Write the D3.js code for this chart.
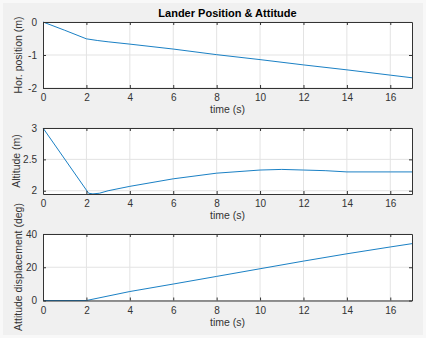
<!DOCTYPE html>
<html>
<head>
<meta charset="utf-8">
<script src="https://cdn.jsdelivr.net/npm/d3@7"></script>
<style>
  body { margin: 0; background: #f8f8f8; }
  svg { display: block; font-family: "Liberation Sans", Arial, sans-serif; }
</style>
</head>
<body>
<svg width="426" height="338"></svg>
<script>
// ### data ###
var time = [0, 1, 2, 2.5, 3, 4, 6, 8, 10, 12, 14, 16, 17];
var horPos = [0, -0.25, -0.51, -0.56, -0.6, -0.67, -0.82, -0.99, -1.14, -1.3, -1.45, -1.61, -1.69];

var altTime = [0, 2.1, 2.3, 2.6, 3, 4, 6, 8, 10, 11, 12, 13, 14, 16, 17];
var altitude = [3, 1.96, 1.95, 1.96, 2.0, 2.07, 2.19, 2.28, 2.33, 2.34, 2.33, 2.32, 2.3, 2.3, 2.3];

var attTime = [0, 2, 4, 6, 8, 10, 12, 14, 16, 17];
var attitude = [0, 0, 5.4, 9.9, 14.5, 19.1, 23.7, 28.1, 32.2, 34.2];

var xTicks = [0, 2, 4, 6, 8, 10, 12, 14, 16];

var panels = [
  {x: time, y: horPos, dom: [-2, 0], ticks: [-2, -1, 0], fmt: d => d < 0 ? '-' + Math.abs(d) : d, label: 'Hor. position (m)', top: 22, bot: 88, ly: 55, lx: 22},
  {x: altTime, y: altitude, dom: [1.948, 3], ticks: [2, 2.5, 3], fmt: d => d, label: 'Altitude (m)', top: 128, bot: 194, ly: 161, lx: 20},
  {x: attTime, y: attitude, dom: [0, 40], ticks: [0, 20, 40], fmt: d => d, label: 'Attitude displacement (deg)', top: 234, bot: 300.5, ly: 267, lx: 22}
];

var svg = d3.select('svg');
svg.append('rect').attr('x', 3).attr('y', 3).attr('width', 420).attr('height', 332).attr('fill', '#f0f0f0');

var left = 43, right = 412;
var xScale = d3.scaleLinear().domain([0, 17]).range([left, right]);

panels.forEach(function(p) {
  var yScale = d3.scaleLinear().domain(p.dom).range([p.bot, p.top]);
  var g = svg.append('g');

  g.append('rect')
    .attr('x', left).attr('y', p.top)
    .attr('width', right - left).attr('height', p.bot - p.top)
    .attr('fill', '#fff');

  // grid
  g.selectAll('.gx').data(xTicks.slice(1)).enter().append('line')
    .attr('x1', d => xScale(d)).attr('x2', d => xScale(d))
    .attr('y1', p.top).attr('y2', p.bot)
    .attr('stroke', '#e3e3e3').attr('stroke-width', 1);
  g.selectAll('.gy').data(p.ticks).enter().append('line')
    .attr('x1', left).attr('x2', right)
    .attr('y1', d => yScale(d)).attr('y2', d => yScale(d))
    .attr('stroke', '#e3e3e3').attr('stroke-width', 1);

  // data line
  var line = d3.line().x(d => xScale(d[0])).y(d => yScale(d[1]));
  g.append('path')
    .datum(d3.zip(p.x, p.y))
    .attr('d', line)
    .attr('fill', 'none')
    .attr('stroke', '#0072bd')
    .attr('stroke-width', 0.9);

  // axes, ticks inside
  var xAxis = d3.axisBottom(xScale).tickValues(xTicks).tickSizeInner(-3).tickSizeOuter(0).tickPadding(6);
  var xTop = d3.axisTop(xScale).tickValues(xTicks).tickSizeInner(-3).tickSizeOuter(0).tickFormat('');
  var yAxis = d3.axisLeft(yScale).tickValues(p.ticks).tickSizeInner(-3).tickSizeOuter(0).tickPadding(6).tickFormat(p.fmt);
  var yRight = d3.axisRight(yScale).tickValues(p.ticks).tickSizeInner(-3).tickSizeOuter(0).tickFormat('');

  [
    g.append('g').attr('transform', `translate(0,${p.bot})`).call(xAxis),
    g.append('g').attr('transform', `translate(0,${p.top})`).call(xTop),
    g.append('g').attr('transform', `translate(${left},0)`).call(yAxis),
    g.append('g').attr('transform', `translate(${right},0)`).call(yRight)
  ].forEach(function(a) {
    a.selectAll('path, line').attr('stroke', '#333').attr('stroke-width', 1);
    a.selectAll('text').attr('fill', '#333').style('font-size', '10px').style('font-family', '"Liberation Sans", Arial, sans-serif');
  });

  // y label
  g.append('text')
    .attr('transform', `translate(${p.lx},${p.ly}) rotate(-90)`)
    .attr('text-anchor', 'middle')
    .attr('fill', '#333')
    .style('font-size', '10.5px')
    .text(p.label);

  // x label
  g.append('text')
    .attr('x', (left + right) / 2).attr('y', p.bot + 25)
    .attr('text-anchor', 'middle')
    .attr('fill', '#333')
    .style('font-size', '10.5px')
    .text('time (s)');
});

svg.append('text')
  .attr('x', (left + right) / 2).attr('y', 17)
  .attr('text-anchor', 'middle')
  .attr('fill', '#000')
  .style('font-size', '11px')
  .style('font-weight', 'bold')
  .text('Lander Position & Attitude');
</script>
</body>
</html>
